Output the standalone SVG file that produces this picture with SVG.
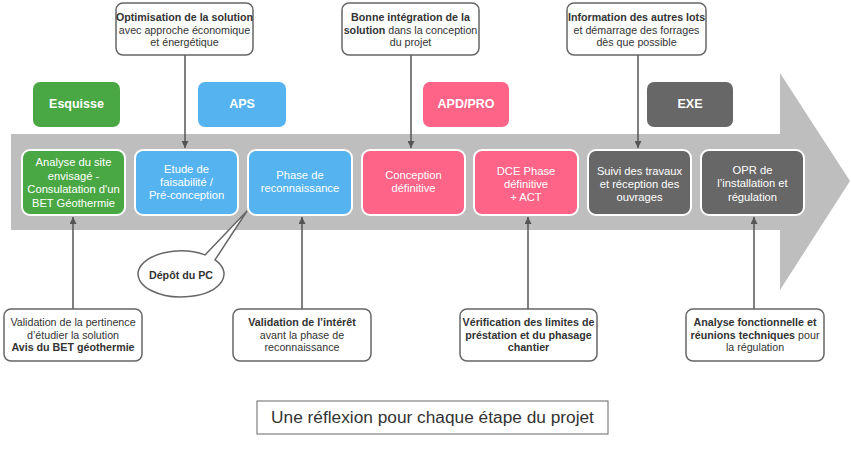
<svg xmlns="http://www.w3.org/2000/svg" width="851" height="451" viewBox="0 0 851 451">
<defs>
<style>
text{font-family:"Liberation Sans",Arial,sans-serif;text-anchor:middle}
.ph{font-size:12.5px;font-weight:bold;fill:#fff}
.st{font-size:11.2px;fill:#fff}
.co{font-size:10.7px;fill:#333}
.b{font-weight:bold}
.card{stroke:#fff;stroke-width:2}
.call{fill:#fff;stroke:#666;stroke-width:1.5}
.ln{stroke:#555;stroke-width:1.5;fill:none}
</style>
<marker id="ah" viewBox="0 0 10 10" refX="10" refY="5" markerWidth="7" markerHeight="7" markerUnits="userSpaceOnUse" orient="auto"><path d="M0,0L10,5L0,10z" fill="#555"/></marker>
</defs>
<polygon id="arrow" points="11,134 780,134 780,73 850,181 780,290 780,230 11,230" fill="#bebebe"/>
<g id="phase-esquisse"><rect x="33" y="82" width="87" height="45" rx="7" fill="#4aa844"/><text class="ph" x="76.5" y="108">Esquisse</text></g>
<g id="phase-aps"><rect x="198" y="82" width="88" height="45" rx="7" fill="#55b4f0"/><text class="ph" x="242" y="108">APS</text></g>
<g id="phase-apd"><rect x="423" y="82" width="86" height="45" rx="7" fill="#fd6487"/><text class="ph" x="466" y="108">APD/PRO</text></g>
<g id="phase-exe"><rect x="647" y="82" width="86" height="45" rx="7" fill="#676767"/><text class="ph" x="690" y="108">EXE</text></g>

<g id="s1"><rect class="card" x="22" y="150" width="103" height="65" rx="8" fill="#4aa844"/><text class="st" x="73.5" y="166">Analyse du site</text><text class="st" x="73.5" y="180">envisagé -</text><text class="st" x="73.5" y="193">Consulatation d'un</text><text class="st" x="73.5" y="207">BET Géothermie</text></g>
<g id="s2"><rect class="card" x="135" y="150" width="103" height="65" rx="8" fill="#55b4f0"/><text class="st" x="186.5" y="173">Etude de</text><text class="st" x="186.5" y="186">faisabilité /</text><text class="st" x="186.5" y="199">Pré-conception</text></g>
<g id="s3"><rect class="card" x="248" y="150" width="104" height="65" rx="8" fill="#55b4f0"/><text class="st" x="300" y="179">Phase de</text><text class="st" x="300" y="192">reconnaissance</text></g>
<g id="s4"><rect class="card" x="362" y="150" width="103" height="65" rx="8" fill="#fd6487"/><text class="st" x="413.5" y="179">Conception</text><text class="st" x="413.5" y="192">définitive</text></g>
<g id="s5"><rect class="card" x="474" y="150" width="104" height="65" rx="8" fill="#fd6487"/><text class="st" x="526" y="175">DCE Phase</text><text class="st" x="526" y="188">définitive</text><text class="st" x="526" y="201">+ ACT</text></g>
<g id="s6"><rect class="card" x="588" y="150" width="103" height="65" rx="8" fill="#676767"/><text class="st" x="639.5" y="175">Suivi des travaux</text><text class="st" x="639.5" y="188">et réception des</text><text class="st" x="639.5" y="201">ouvrages</text></g>
<g id="s7"><rect class="card" x="701" y="150" width="103" height="65" rx="8" fill="#676767"/><text class="st" x="752.5" y="174">OPR de</text><text class="st" x="752.5" y="187">l’installation et</text><text class="st" x="752.5" y="201">régulation</text></g>

<g id="connectors">
<line class="ln" x1="185" y1="55" x2="185" y2="148" marker-end="url(#ah)"/>
<line class="ln" x1="411" y1="55" x2="411" y2="148" marker-end="url(#ah)"/>
<line class="ln" x1="638" y1="55" x2="638" y2="148" marker-end="url(#ah)"/>
<line class="ln" x1="73" y1="309" x2="73" y2="217" marker-end="url(#ah)"/>
<line class="ln" x1="302" y1="309" x2="302" y2="217" marker-end="url(#ah)"/>
<line class="ln" x1="528" y1="309" x2="528" y2="217" marker-end="url(#ah)"/>
<line class="ln" x1="754" y1="309" x2="754" y2="217" marker-end="url(#ah)"/>
</g>

<g id="c-top1"><rect class="call" x="116" y="3" width="137" height="52" rx="7"/><text class="co" x="184.5" y="21"><tspan class="b">Optimisation de la solution</tspan></text><text class="co" x="184.5" y="34">avec approche économique</text><text class="co" x="184.5" y="46">et énergétique</text></g>
<g id="c-top2"><rect class="call" x="342" y="3" width="137" height="52" rx="7"/><text class="co" x="410.5" y="21"><tspan class="b">Bonne intégration de la</tspan></text><text class="co" x="410.5" y="34"><tspan class="b">solution</tspan> dans la conception</text><text class="co" x="410.5" y="46">du projet</text></g>
<g id="c-top3"><rect class="call" x="567" y="3" width="139" height="52" rx="7"/><text class="co" x="636.5" y="21"><tspan class="b">Information des autres lots</tspan></text><text class="co" x="636.5" y="34">et démarrage des forrages</text><text class="co" x="636.5" y="46">dès que possible</text></g>

<g id="c-bot1"><rect class="call" x="4" y="309" width="138" height="52" rx="7"/><text class="co" x="73" y="326">Validation de la pertinence</text><text class="co" x="73" y="339">d’étudier la solution</text><text class="co" x="73" y="351"><tspan class="b">Avis du BET géothermie</tspan></text></g>
<g id="c-bot2"><rect class="call" x="233" y="309" width="138" height="52" rx="7"/><text class="co" x="302" y="326"><tspan class="b">Validation de l’intérêt</tspan></text><text class="co" x="302" y="339">avant la phase de</text><text class="co" x="302" y="351">reconnaissance</text></g>
<g id="c-bot3"><rect class="call" x="460" y="309" width="137" height="52" rx="7"/><text class="co b" x="528.5" y="326">Vérification des limites de</text><text class="co b" x="528.5" y="339">préstation et du phasage</text><text class="co b" x="528.5" y="351">chantier</text></g>
<g id="c-bot4"><rect class="call" x="686" y="309" width="138" height="52" rx="7"/><text class="co" x="755" y="326"><tspan class="b">Analyse fonctionnelle et</tspan></text><text class="co" x="755" y="339"><tspan class="b">réunions techniques</tspan> pour</text><text class="co" x="755" y="351">la régulation</text></g>

<g id="depot"><path class="call" d="M205,254.9 L247,211 L215,259.9 A43,23 0 1 1 205,254.9 Z"/><text class="co b" x="181" y="279">Dépôt du PC</text></g>

<g id="caption"><rect x="257" y="401" width="351" height="33" fill="#fff" stroke="#666" stroke-width="1"/><text x="432.5" y="423" style="font-size:17.3px;fill:#333">Une réflexion pour chaque étape du projet</text></g>
</svg>
